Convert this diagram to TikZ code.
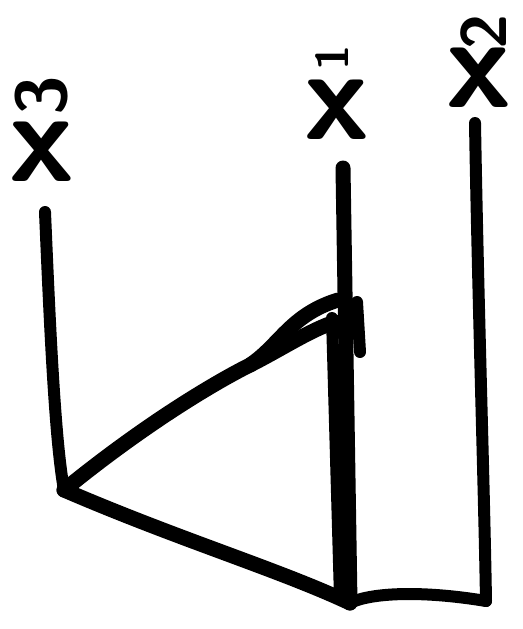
\documentclass[tikz,border=0pt]{standalone}
\usetikzlibrary{calc}
\tikzset{
  pen/.style={line width=15pt, line cap=round, line join=round, black},
  thinpen/.style={line width=12pt, line cap=round, line join=round, black},
  xlab/.style={inner sep=0pt, font=\sffamily\bfseries\fontsize{130}{130}\selectfont},
  dlab/.style={inner sep=0pt, font=\sffamily\bfseries\fontsize{72}{72}\selectfont},
}
\begin{document}
\begin{tikzpicture}[x=1pt,y=-1pt]
\useasboundingbox (0,0) rectangle (522,629);
% labels
\node[xlab] (x3) at (42,152) {x};
\node[dlab, transform canvas={rotate around={90:(42,96)}}] (d3) at (42,96) {3};
\node[xlab] (x1) at (337,110) {x};
\node[dlab, font=\sffamily\bfseries\fontsize{46}{46}\selectfont, transform canvas={rotate around={90:(332,58)}}] (d1) at (332,58) {1};
\node[xlab] (x2) at (479,78) {x};
\node[dlab, font=\sffamily\bfseries\fontsize{64}{64}\selectfont, transform canvas={rotate around={90:(484,32)}}] (d2) at (484,32) {2};
% points
\coordinate (a) at (45,212);
\coordinate (b) at (64,490);
\coordinate (c) at (343,168);
\coordinate (d) at (338,300);
\coordinate (e) at (350,603);
\coordinate (f) at (475,123);
\coordinate (g) at (486,601);
% lines
\draw[thinpen] (a) .. controls (50,330) and (55,440) .. (b);
\draw[pen] (c) -- (e);
\draw[thinpen] (332,318) -- (340,598);
\draw[thinpen] (357,302) -- (360,352);
\draw[pen] (b) .. controls (150,420) and (220,380) .. (250,365)
           .. controls (280,345) and (290,315) .. (d);
\draw[pen] (250,365) .. controls (280,350) and (310,330) .. (335,322);
\draw[pen] (b) .. controls (180,540) and (280,570) .. (e);
\draw[thinpen] (e) .. controls (370,593) and (420,590) .. (g);
\draw[thinpen] (f) .. controls (478,300) and (484,480) .. (g);
\end{tikzpicture}
\end{document}
